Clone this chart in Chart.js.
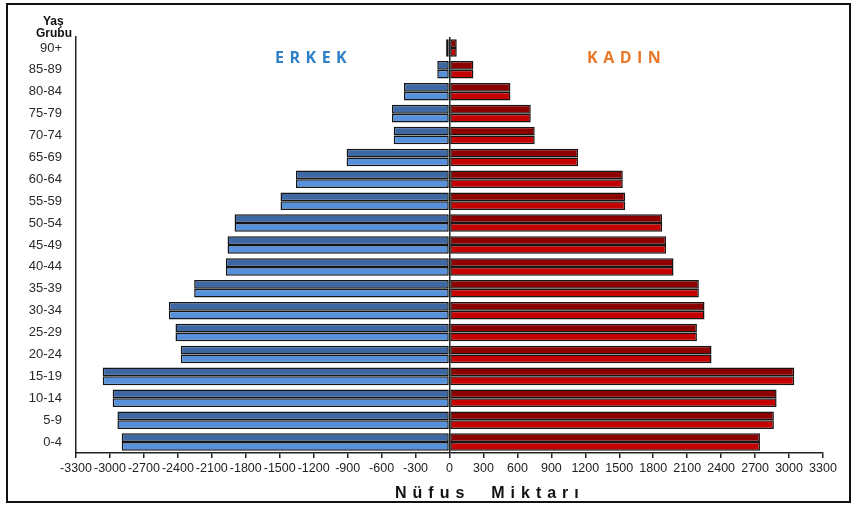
<!DOCTYPE html>
<html>
<head>
<meta charset="utf-8">
<script src="https://cdn.jsdelivr.net/npm/chart.js@4/dist/chart.umd.min.js"></script>
<style>
  body { margin: 0; background: #fff; font-family: "Liberation Sans", Arial, sans-serif; }
  #wrap { position: relative; width: 856px; height: 511px; }
  #frame { position: absolute; left: 6px; top: 3px; width: 845px; height: 500px; border: 2px solid #111; box-sizing: border-box; pointer-events: none; }
  .lbl { position: absolute; white-space: nowrap; font-weight: bold; }
</style>
</head>
<body>
<div id="wrap">
  <canvas id="pyramid" width="856" height="511"></canvas>
  <div id="frame"></div>
  <div class="lbl" style="left:43px; top:14px; font-size:12px; color:#111;">Yaş</div>
  <div class="lbl" style="left:36px; top:26px; font-size:12px; color:#111;">Grubu</div>
  <div class="lbl" style="left:275px; top:46px; font-size:16px; letter-spacing:5.5px; color:#2f80c8; font-family:'Open Sans',sans-serif;">ERKEK</div>
  <div class="lbl" style="left:587px; top:46px; font-size:16px; letter-spacing:5.5px; color:#e8782a; font-family:'Open Sans',sans-serif;">KADIN</div>
  <div class="lbl" style="left:395px; top:484px; font-size:16px; letter-spacing:6px; color:#111;">Nüfus&nbsp;&nbsp;Miktarı</div>
</div>
<script>
// age groups, top to bottom
const ageGroups = ['90+', '85-89', '80-84', '75-79', '70-74', '65-69', '60-64', '55-59', '50-54',
  '45-49', '40-44', '35-39', '30-34', '25-29', '20-24', '15-19', '10-14', '5-9', '0-4']
const erkek = [30, 108, 402, 508, 493, 909, 1357, 1493, 1899, 1961, 1976, 2256, 2480, 2421, 2374, 3064, 2976, 2934, 2896]
const kadin = [64, 211, 538, 718, 753, 1136, 1531, 1552, 1879, 1914, 1979, 2203, 2253, 2186, 2315, 3046, 2890, 2866, 2743]
const xMin = -3300
const xMax = 3300
const xStep = 300

const erkekNeg = erkek.map(v => -v)

const barOpts = {
    borderColor: '#151515',
    borderWidth: 1.5,
    borderSkipped: false,
    categoryPercentage: 0.8,
    barPercentage: 1.0
}

const ctx = document.getElementById('pyramid').getContext('2d')
const myChart = new Chart(ctx, {
    type: 'bar',
    data: {
        labels: ageGroups,
        datasets: [
            { label: 'Erkek', data: erkekNeg, stack: 'top', backgroundColor: '#3d68a3', ...barOpts },
            { label: 'Kadın', data: kadin, stack: 'top', backgroundColor: '#8c0000', ...barOpts },
            { label: 'Erkek ', data: erkekNeg, stack: 'bottom', backgroundColor: '#5891db', ...barOpts },
            { label: 'Kadın ', data: kadin, stack: 'bottom', backgroundColor: '#c40000', ...barOpts }
        ]
    },
    options: {
        indexAxis: 'y',
        responsive: false,
        animation: false,
        layout: { padding: { top: 37, right: 33, left: 0, bottom: 0 } },
        plugins: {
            legend: { display: false },
            tooltip: { enabled: false }
        },
        scales: {
            x: {
                stacked: true,
                min: xMin,
                max: xMax,
                border: { color: '#222', width: 1.5 },
                grid: {
                    color: (c) => c.tick && c.tick.value === 0 ? '#222' : 'transparent',
                    lineWidth: 1.5,
                    drawTicks: true,
                    tickLength: 5,
                    tickColor: '#222'
                },
                ticks: {
                    stepSize: xStep,
                    autoSkip: false,
                    maxRotation: 0,
                    padding: 3,
                    color: '#222',
                    font: { family: 'Liberation Sans', size: 12.5 },
                    callback: (v) => String(v)
                },
                afterFit: (s) => { s.height = 58 }
            },
            y: {
                border: { color: '#222', width: 1.5 },
                grid: { display: false, drawTicks: false },
                ticks: {
                    padding: 14,
                    color: '#2a2a2a',
                    font: { family: 'Liberation Sans', size: 13 }
                },
                afterFit: (s) => { s.width = 76 }
            }
        }
    }
})
</script>
</body>
</html>
